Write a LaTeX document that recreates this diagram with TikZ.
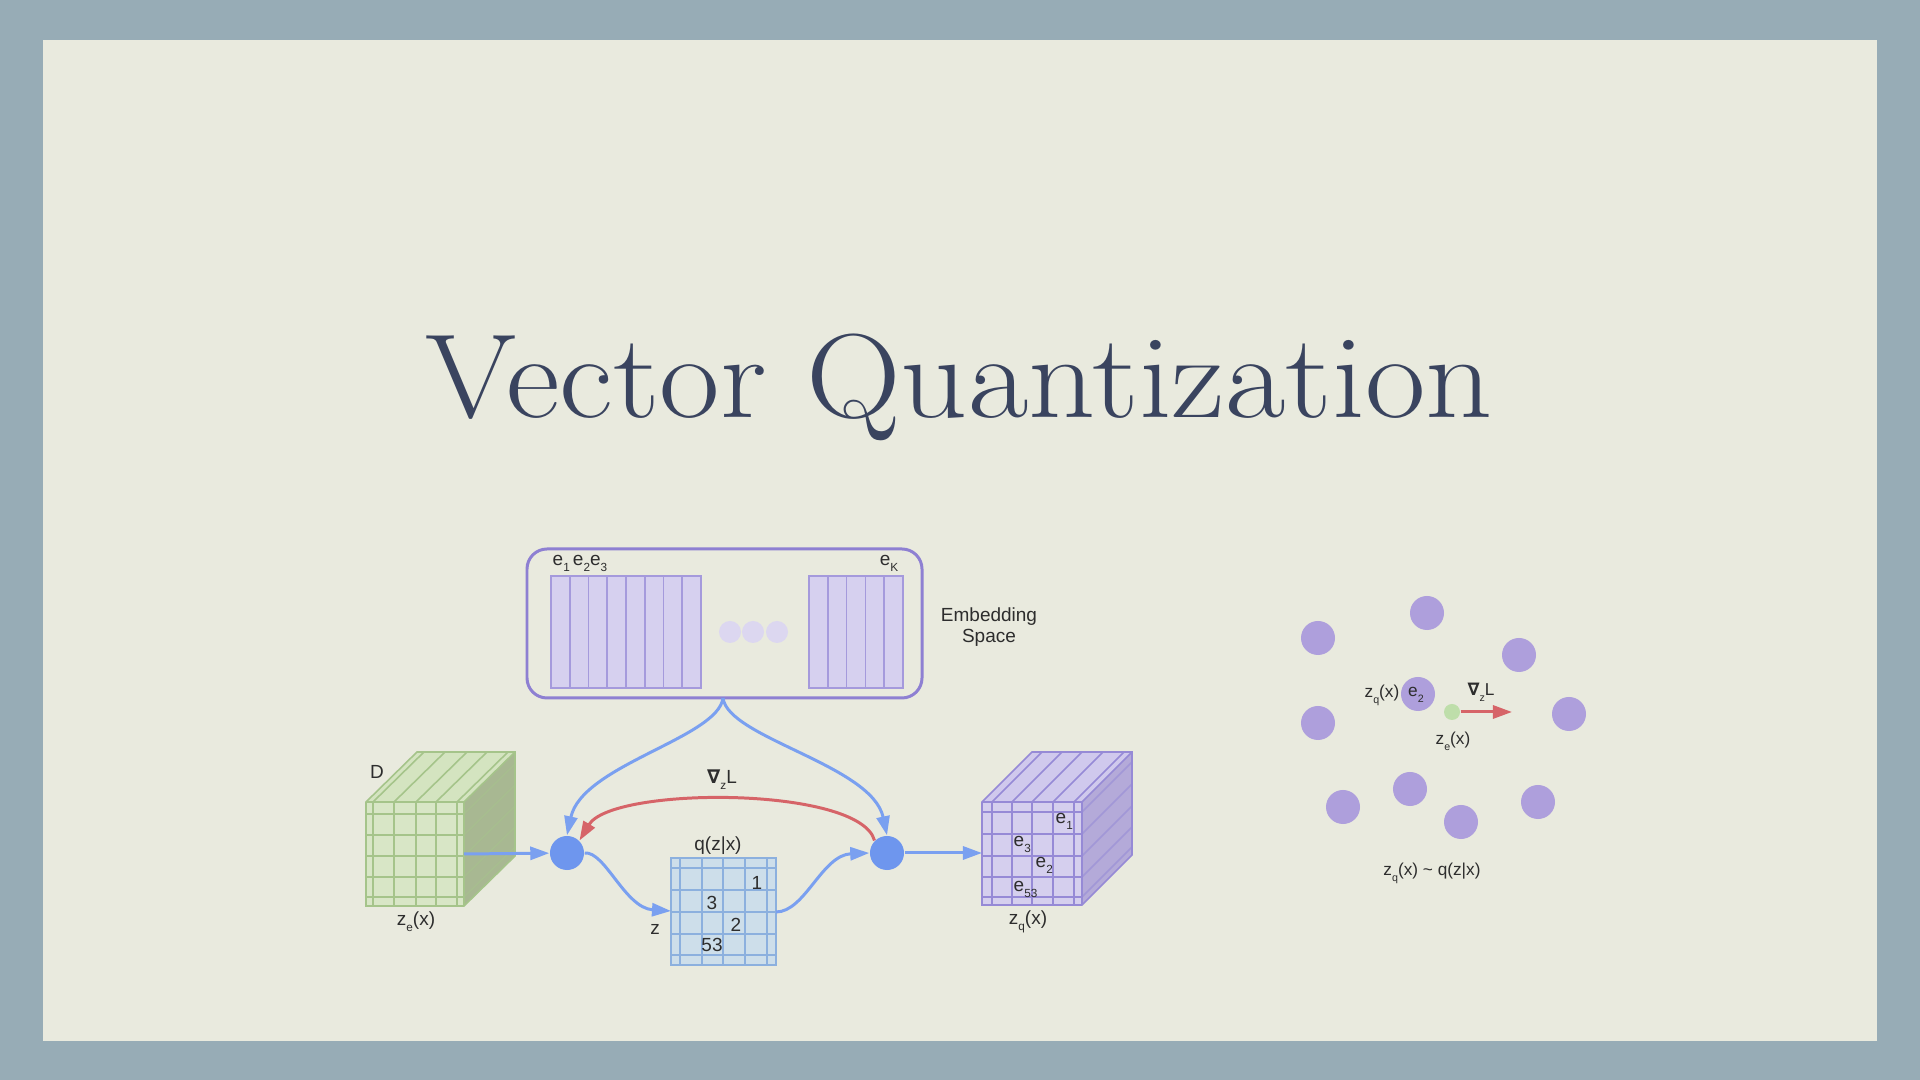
\documentclass[tikz,border=0pt]{standalone}
\usepackage{fontspec}
\setsansfont{Liberation Sans}
\newfontfamily\nablafont{DejaVu Sans}
\usetikzlibrary{arrows.meta}

\definecolor{frameblue}{RGB}{151,172,182}
\definecolor{paper}{RGB}{233,234,222}
\definecolor{titleink}{RGB}{58,68,95}
\definecolor{flowblue}{RGB}{122,160,240}
\definecolor{hubblue}{RGB}{110,150,238}
\definecolor{gradred}{RGB}{214,100,104}
\definecolor{embline}{RGB}{142,128,210}
\definecolor{embfill}{RGB}{214,208,239}
\definecolor{embstripe}{RGB}{165,154,220}
\definecolor{embdot}{RGB}{220,215,240}
\definecolor{greenface}{RGB}{216,230,198}
\definecolor{greentop}{RGB}{212,228,192}
\definecolor{greenside}{RGB}{168,184,146}
\definecolor{greenline}{RGB}{165,196,138}
\definecolor{purpface}{RGB}{213,207,238}
\definecolor{purptop}{RGB}{208,201,237}
\definecolor{purpside}{RGB}{180,170,217}
\definecolor{purpline}{RGB}{150,138,214}
\definecolor{zface}{RGB}{205,222,234}
\definecolor{zline}{RGB}{140,176,222}
\definecolor{codeword}{RGB}{174,159,220}
\definecolor{encdot}{RGB}{190,222,170}
\definecolor{labelink}{RGB}{45,45,45}

\newcommand{\lowidx}[1]{\raisebox{-0.3em}{\scalebox{0.62}{#1}}}

\tikzset{
  flow/.style={draw=flowblue, line width=0.85pt, -{Triangle[length=1.9mm,width=1.3mm]}},
  grad/.style={draw=gradred, line width=0.85pt, -{Triangle[length=1.9mm,width=1.3mm]}},
  hub/.style={circle, fill=hubblue, minimum size=3.4mm, inner sep=0pt},
  codeword/.style={circle, fill=codeword, minimum size=3.4mm, inner sep=0pt},
  encoded/.style={circle, fill=encdot, minimum size=1.6mm, inner sep=0pt},
  lbl/.style={text=labelink, inner sep=0pt},
  small/.style={lbl, font=\sffamily\fontsize{4.9}{5.5}\selectfont},
}

\begin{document}
\begin{tikzpicture}[x=0.01cm, y=-0.01cm, font=\sffamily\fontsize{5.4}{6}\selectfont]
  \useasboundingbox (0,0) rectangle (1920,1080);
  \fill[frameblue] (0,0) rectangle (1920,1080);
  \fill[paper] (43,40) rectangle (1877,1041);

  \node[font=\fontsize{34}{40}\selectfont, text=titleink, anchor=base, inner sep=0pt] (title) at (959,418) {\scalebox{1.1}[1]{Vector Quantization}};

  % embedding space
  \draw[embline, line width=0.85pt, rounded corners=2mm] (527,549) rectangle (922,698);
  \foreach \i in {0,...,7}
    \draw[embstripe, fill=embfill, line width=0.45pt] ({551+18.75*\i},576) rectangle +(18.75,112);
  \foreach \i in {0,...,4}
    \draw[embstripe, fill=embfill, line width=0.45pt] ({809+18.8*\i},576) rectangle +(18.8,112);
  \foreach \x in {730,753,777}
    \fill[embdot] (\x,632) circle (1.1mm);
  \node[lbl, anchor=base west] (e123) at (552,566) {e\lowidx{1}\,e\lowidx{2}e\lowidx{3}};
  \node[lbl, anchor=base] (eK) at (889,566) {e\lowidx{K}};
  \node[lbl, align=center] (embspace) at (989,627) {Embedding\\Space};
  \coordinate (embbot) at (723,698);

  % encoder output z_e(x)
  \fill[greenface] (366,802) rectangle (464,906);
  \fill[greentop] (366,802) -- (417,752) -- (515,752) -- (464,802) -- cycle;
  \fill[greenside] (464,802) -- (515,752) -- (515,856) -- (464,906) -- cycle;
  \foreach \x in {373,394,416,436,457} {
    \draw[greenline, line width=0.45pt] (\x,802) -- (\x,906);
    \draw[greenline, line width=0.45pt] (\x,802) -- +(51,-50);
  }
  \foreach \y in {814,835,856,877,897} {
    \draw[greenline, line width=0.45pt] (366,\y) -- (464,\y);
    \draw[greenline!40!greenside, line width=0.45pt] (464,\y) -- +(51,-50);
  }
  \draw[greenline, line width=0.45pt] (366,802) -- (417,752) -- (515,752) -- (515,856) -- (464,906) -- (366,906) -- cycle
    (366,802) -- (464,802) -- (515,752) (464,802) -- (464,906);
  \node[lbl] (D) at (377,772) {D};
  \node[lbl, anchor=base] (zelbl) at (416,926) {z\lowidx{e}(x)};
  \coordinate (zeout) at (464,854);

  % q(z|x) grid
  \fill[zface] (671,858) rectangle (776,965);
  \foreach \x in {680,702,723,745,767}
    \draw[zline, line width=0.45pt] (\x,858) -- (\x,965);
  \foreach \y in {868,890,912,934,955}
    \draw[zline, line width=0.45pt] (671,\y) -- (776,\y);
  \draw[zline, line width=0.45pt] (671,858) rectangle (776,965);
  \node[lbl] (one) at (757,883) {1};
  \node[lbl] (three) at (712,903) {3};
  \node[lbl] (two) at (736,925) {2};
  \node[lbl] (fiftythree) at (712,945) {53};
  \node[lbl] (qzx) at (718,846) {q(z|x)};
  \node[lbl] (zlbl) at (655,929) {z};
  \coordinate (zin) at (671,911);
  \coordinate (zout) at (776,912);

  % decoder input z_q(x)
  \fill[purpface] (982,802) rectangle (1082,905);
  \fill[purptop] (982,802) -- (1032,752) -- (1132,752) -- (1082,802) -- cycle;
  \fill[purpside] (1082,802) -- (1132,752) -- (1132,855) -- (1082,905) -- cycle;
  \foreach \x in {992,1012,1032,1053,1074} {
    \draw[purpline, line width=0.45pt] (\x,802) -- (\x,905);
    \draw[purpline, line width=0.45pt] (\x,802) -- +(50,-50);
  }
  \foreach \y in {812,834,856,877,897} {
    \draw[purpline, line width=0.45pt] (982,\y) -- (1082,\y);
    \draw[purpline!60!purpside, line width=0.45pt] (1082,\y) -- +(50,-50);
  }
  \draw[purpline, line width=0.45pt] (982,802) -- (1032,752) -- (1132,752) -- (1132,855) -- (1082,905) -- (982,905) -- cycle
    (982,802) -- (1082,802) -- (1132,752) (1082,802) -- (1082,905);
  \node[lbl, anchor=base west] (qe1) at (1055,824) {e\lowidx{1}};
  \node[lbl, anchor=base west] (qe3) at (1013,847) {e\lowidx{3}};
  \node[lbl, anchor=base west] (qe2) at (1035,868) {e\lowidx{2}};
  \node[lbl, anchor=base west] (qe53) at (1013,892) {e\lowidx{53}};
  \node[lbl, anchor=base] (zqlbl) at (1028,925) {z\lowidx{q}(x)};
  \coordinate (zqin) at (982,853);

  % hubs and flows
  \node[hub] (hubL) at (567,853) {};
  \node[hub] (hubR) at (887,853) {};
  \draw[flow] (zeout) -- (hubL);
  \draw[flow] (embbot) .. controls (718,738) and (582,765) .. (hubL.north);
  \draw[flow] (embbot) .. controls (728,738) and (872,765) .. (hubR.north);
  \draw[flow] (hubL.east) .. controls (605,851) and (625,908) .. (zin);
  \draw[flow] (zout) .. controls (805,912) and (822,855) .. (hubR.west);
  \draw[flow] (hubR.east) -- (zqin);
  \draw[grad] (hubR.north west) .. controls (860,786) and (612,786) .. (hubL.north east);
  \node[lbl, anchor=base] (gradlbl) at (722,784) {{\nablafont\bfseries ∇}\lowidx{z}L};

  % codebook picture
  \foreach \x/\y [count=\k] in {1318/638, 1427/613, 1519/655, 1418/694, 1318/723,
                                1569/714, 1410/789, 1343/807, 1461/822, 1538/802}
    \node[codeword] (cw\k) at (\x,\y) {};
  \node[encoded] (zedot) at (1452,712) {};
  \coordinate (gradtip) at (1512,712);
  \draw[grad] (zedot) -- (gradtip);
  \node[small, anchor=base] (zqpt) at (1382,698) {z\lowidx{q}(x)};
  \node[small, anchor=base] (e2pt) at (1416,697) {e\lowidx{2}};
  \node[small, anchor=base] (gradpt) at (1481,696) {{\nablafont\bfseries ∇}\lowidx{z}L};
  \node[small, anchor=base] (zept) at (1453,745) {z\lowidx{e}(x)};
  \node[small, anchor=base] (dist) at (1432,876) {z\lowidx{q}(x) \textasciitilde{} q(z|x)};
\end{tikzpicture}
\end{document}
